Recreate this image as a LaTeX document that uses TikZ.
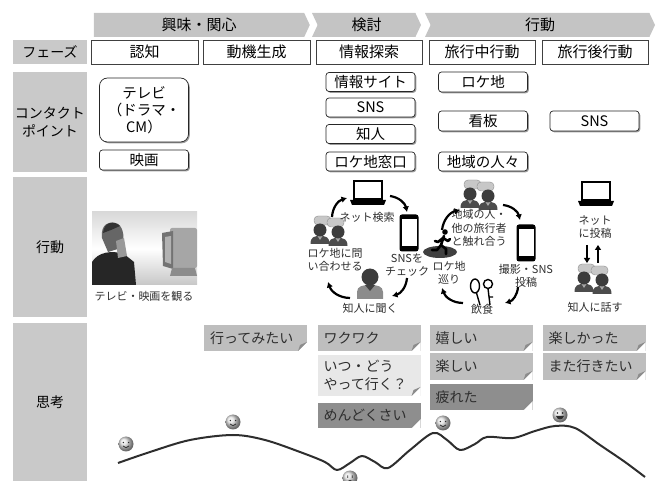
\documentclass[tikz,border=0pt]{standalone}
\usepackage{fontspec}
\setmainfont{Noto Sans CJK JP}
\usetikzlibrary{arrows.meta,positioning,calc,shapes.symbols,shadows}
\definecolor{bandgray}{HTML}{C4C4C4}
\definecolor{labelgray}{HTML}{C9C9C9}
\definecolor{notemid}{HTML}{BEBEBE}
\definecolor{notelight}{HTML}{E8E8E8}
\definecolor{notedark}{HTML}{8E8E8E}
\definecolor{ink}{HTML}{2E2E2E}
\definecolor{skin}{HTML}{3C3C3C}
\tikzset{
  band/.style={
    shape=signal,
    signal to=east,
    signal pointer angle=130,
    fill=bandgray,
    minimum height=24,
    inner sep=0pt,
    font=\fontsize{15}{18}\selectfont
  },
  rowlabel/.style={
    fill=labelgray,
    minimum width=74,
    inner sep=0pt,
    align=center,
    font=\fontsize{14}{18}\selectfont
  },
  phasebox/.style={
    draw=black!75,
    fill=white,
    line width=0.8pt,
    minimum width=106,
    minimum height=24,
    inner sep=0pt,
    font=\fontsize{15}{18}\selectfont
  },
  touchbox/.style={
    draw=black!85,
    fill=white,
    rounded corners=3pt,
    line width=0.7pt,
    minimum width=89,
    minimum height=19,
    inner sep=0pt,
    align=center,
    font=\fontsize{14.5}{17}\selectfont,
    drop shadow={shadow xshift=1.3pt, shadow yshift=-1.3pt, fill=black!70, opacity=0.55}
  },
  sticky/.style={
    fill=#1,
    minimum width=103,
    minimum height=26,
    text width=91,
    inner sep=0pt,
    align=left,
    text=ink,
    font=\fontsize{14}{18}\selectfont,
    path picture={
      \fill[white] ([xshift=-9pt]path picture bounding box.south east)
        -- (path picture bounding box.south east)
        -- ([yshift=9pt]path picture bounding box.south east) -- cycle;
      \fill[black!45] ([xshift=-9pt]path picture bounding box.south east)
        -- ([yshift=9pt]path picture bounding box.south east)
        -- ([xshift=-7pt,yshift=6pt]path picture bounding box.south east) -- cycle;
    }
  },
  sticky/.default=notemid,
  iconcap/.style={
    inner sep=0pt,
    align=center,
    text=ink,
    font=\fontsize{11}{13.5}\selectfont
  },
  cyclearrow/.style={
    -{Latex[length=5.5pt,width=6.5pt]},
    line width=2.2pt,
    bend left=35
  },
  postarrow/.style={
    -{Triangle[length=5pt,width=6pt]},
    line width=2pt
  },
  mood/.style={
    draw=ink,
    line width=2pt,
    line join=round
  },
  % small icons
  laptop/.pic={
    \draw[line width=2.4pt, fill=white] (-14,-13) rectangle (14,5);
    \fill (-18,6) -- (18,6) -- (16,11) -- (-16,11) -- cycle;
  },
  handset/.pic={
    \fill[rounded corners=2.5pt] (-9.5,-18.5) rectangle (9.5,18.5);
    \fill[white] (-7.5,-14) rectangle (7.5,13.5);
  },
  buddy/.pic={
    \fill[black!70] (-9.5,14) .. controls (-9.5,7) and (-6,6) .. (0,6)
      .. controls (6,6) and (9.5,7) .. (9.5,14) -- cycle;
    \fill[black!35] (-2.5,6) -- (2.5,6) -- (0,10) -- cycle;
    \fill[skin] (0,0) circle (6.5);
  },
  pair/.pic={
    \fill[black!22, draw=black!45, line width=0.4pt, rounded corners=4pt]
      (-15,-14) rectangle (2,-5);
    \fill[black!22, draw=black!45, line width=0.4pt, rounded corners=4pt]
      (-2,-12) rectangle (15,-3);
    \pic at (-9,0) {buddy};
    \pic at (9,2) {buddy};
  },
  friend/.pic={
    \fill[black!45] (-13,14) -- (-13,7) .. controls (-13,1) and (-7,0) .. (0,0)
      .. controls (7,0) and (13,1) .. (13,7) -- (13,14) -- cycle;
    \fill[black!75] (-5,0) -- (0,6) -- (5,0) -- cycle;
    \fill[skin] (0,-8) circle (8.5);
  },
  walker/.pic={
    \fill[black!75] (0,0) ellipse (17 and 6);
    \fill (5,-20) circle (2.8);
    \draw[line width=2.6pt, line cap=round, line join=round]
      (4,-16) -- (1,-7)
      (1,-7) -- (6,-3) -- (6,2)
      (1,-7) -- (-3,-2) -- (-8,-2)
      (3,-14) -- (-2,-10) -- (-5,-11)
      (3,-14) -- (8,-11) -- (10,-13);
  },
  cutlery/.pic={
    \draw[line width=1.4pt, fill=white] (-6,-7) ellipse (4.5 and 7);
    \draw[line width=1.4pt] (-4.5,0) -- (-1,12);
    \draw[line width=1.4pt, fill=white] (7,-9) circle (4.5);
    \draw[line width=1.4pt] (7,-4.5) -- (9,12) (8,4) -- (12,4);
  },
  smiley/.pic={
    \shade[ball color=black!12] (0,0) circle (7.5);
    \fill[ink] (-2.6,-1.5) circle (0.8) (2.6,-1.5) circle (0.8);
    \draw[ink, line width=0.8pt] (-3,2) .. controls (-1,4.2) and (1,4.2) .. (3,2);
  },
  grin/.pic={
    \shade[ball color=black!12] (0,0) circle (7.5);
    \fill[ink] (-2.6,-2) circle (0.9) (2.6,-2) circle (0.9);
    \fill[ink] (-4,1) .. controls (-3,5.5) and (3,5.5) .. (4,1) -- cycle;
  },
  frown/.pic={
    \shade[ball color=black!12] (0,0) circle (7.5);
    \fill[ink] (-2.6,-2.5) rectangle (-1.8,0) (1.8,-2.5) rectangle (2.6,0);
    \draw[ink, line width=0.8pt] (-3,4) .. controls (-1,1.8) and (1,1.8) .. (3,4);
  }
}

\begin{document}
\begin{tikzpicture}[x=1pt, y=-1pt]
\useasboundingbox (0,0) rectangle (657,481);

% stages
\node[band, minimum width=216] (interest) at (199,25) {興味・関心};
\node[band, minimum width=109, signal from=west] (review) at (366.5,25) {検討};
\node[band, minimum width=230, signal from=west] (act) at (540,25) {行動};

% row headings
\node[rowlabel, minimum height=24] (phase) at (50,52) {フェーズ};
\node[rowlabel, minimum height=100] (touch) at (50,122) {コンタクト\\ポイント};
\node[rowlabel, minimum height=140] (doing) at (50,247) {行動};
\node[rowlabel, minimum height=158] (mind) at (50,402) {思考};

% phases
\node[phasebox, minimum width=107] (aware) at (144.5,52) {認知};
\node[phasebox, minimum width=107] (motive) at (256.5,52) {動機生成};
\node[phasebox] (search) at (369,52) {情報探索};
\node[phasebox] (trip) at (482,52) {旅行中行動};
\node[phasebox] (after) at (595,52) {旅行後行動};

% contact points
\node[touchbox, minimum height=64, rounded corners=8pt] (tv) at (144,110) {テレビ\\（ドラマ・\\CM）};
\node[touchbox, minimum height=20] (movie) at (144,160) {映画};
\node[touchbox] (infosite) at (370.5,82) {情報サイト};
\node[touchbox] (sns) at (370.5,107.5) {SNS};
\node[touchbox] (friends) at (370.5,134) {知人};
\node[touchbox] (desk) at (370.5,161.5) {ロケ地窓口};
\node[touchbox, minimum height=20] (spot) at (483,82) {ロケ地};
\node[touchbox, minimum height=20] (sign) at (483,121) {看板};
\node[touchbox] (locals) at (483,161.5) {地域の人々};
\node[touchbox, minimum height=20] (snspost) at (594.5,121) {SNS};

% watching at home
\shade[top color=black!15, bottom color=black!22, middle color=white] (92,212) rectangle (197,285);
\fill[black!85] (92,285) -- (92,262) .. controls (98,252) and (112,250) .. (124,254)
  -- (134,262) -- (136,285) -- cycle;
\fill[black!60] (102,238) .. controls (100,224) and (110,220) .. (118,224)
  .. controls (124,228) and (125,240) .. (121,248) -- (108,252) -- cycle;
\fill[black!80] (103,233) .. controls (104,222) and (114,220) .. (120,226) -- (111,230) -- cycle;
\fill[black!40] (116,241) -- (124,238) -- (127,256) -- (118,258) -- cycle;
\fill[black!35, rounded corners=2pt] (170,228) rectangle (197,268);
\fill[black!55] (162,233) -- (173,231) -- (173,269) -- (163,266) -- cycle;
\fill[black!30] (165,237) -- (171,236) -- (171,264) -- (165,262) -- cycle;
\fill[black!45] (172,268) -- (195,268) -- (197,276) -- (170,276) -- cycle;
\node[iconcap] (watch) at (144,296) {テレビ・映画を観る};

% searching before the trip
\pic at (368,194) {laptop};
\pic at (409,233) {handset};
\pic at (370,285) {friend};
\pic at (329,230) {pair};
\node[iconcap] (websearch) at (367,217) {ネット検索};
\node[iconcap] (snscheck) at (407,265) {SNSを\\チェック};
\node[iconcap] (askfriend) at (370,308) {知人に聞く};
\node[iconcap] (inquire) at (335,260) {ロケ地に問\\い合わせる};
\coordinate (s1) at (332,217);
\coordinate (s2) at (347,198);
\coordinate (s3) at (390,196);
\coordinate (s4) at (407,212);
\coordinate (s5) at (407,278);
\coordinate (s6) at (392,296);
\coordinate (s7) at (350,298);
\coordinate (s8) at (328,282);
\draw[cyclearrow] (s1) to (s2);
\draw[cyclearrow] (s3) to (s4);
\draw[cyclearrow] (s5) to (s6);
\draw[cyclearrow] (s7) to (s8);

% on the trip
\pic at (479,194) {pair};
\pic at (526,243) {handset};
\pic at (440,252) {walker};
\pic at (481,293) {cutlery};
\node[iconcap] (meet) at (479,228) {地域の人・\\他の旅行者\\と触れ合う};
\node[iconcap] (shoot) at (526,276) {撮影・SNS\\投稿};
\node[iconcap] (eat) at (482,309) {飲食};
\node[iconcap] (tour) at (449,273) {ロケ地\\巡り};
\coordinate (t1) at (442,230);
\coordinate (t2) at (460,210);
\coordinate (t3) at (503,205);
\coordinate (t4) at (520,220);
\coordinate (t5) at (518,287);
\coordinate (t6) at (505,303);
\coordinate (t7) at (463,303);
\coordinate (t8) at (442,288);
\draw[cyclearrow] (t1) to (t2);
\draw[cyclearrow] (t3) to (t4);
\draw[cyclearrow] (t5) to (t6);
\draw[cyclearrow] (t7) to (t8);

% after the trip
\pic at (596,195) {laptop};
\pic at (593,278) {pair};
\node[iconcap] (post) at (595,227) {ネット\\に投稿};
\node[iconcap] (tell) at (595,307) {知人に話す};
\coordinate (u1) at (587,245);
\coordinate (u2) at (587,263);
\coordinate (u3) at (598,263);
\coordinate (u4) at (598,245);
\draw[postarrow] (u1) -- (u2);
\draw[postarrow] (u3) -- (u4);

% thoughts
\node[sticky] (wish) at (255.5,338) {行ってみたい};
\node[sticky] (thrill) at (369,338) {ワクワク};
\node[sticky=notelight, minimum height=41] (how) at (369,375.5) {いつ・どう\\やって行く？};
\node[sticky=notedark, minimum height=25] (bother) at (369,415.5) {めんどくさい};
\node[sticky] (glad) at (481,338) {嬉しい};
\node[sticky, minimum height=27] (fun) at (481,366.5) {楽しい};
\node[sticky=notedark] (tired) at (481,397) {疲れた};
\node[sticky] (enjoyed) at (594,338) {楽しかった};
\node[sticky, minimum height=27] (again) at (594,366.5) {また行きたい};

% mood line
\draw[mood] plot[smooth, tension=0.55] coordinates {
  (118,463) (150,452) (190,440) (233,435) (265,440) (300,452) (325,462)
  (337,470) (350,463) (362,456) (375,462) (388,468) (410,450) (433,433)
  (447,440) (460,450) (475,444) (487,437) (513,438) (535,431) (555,426)
  (575,428) (600,445) (625,462) (645,477)};
\pic at (126,444) {smiley};
\pic at (233,422) {smiley};
\pic at (443,423) {smiley};
\pic at (560,415) {grin};
\pic at (350,478) {frown};
\end{tikzpicture}
\end{document}
